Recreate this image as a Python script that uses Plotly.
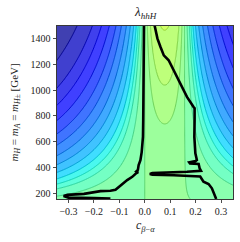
import numpy as np
import plotly.graph_objects as go

# ---- axis ranges ----
C_RANGE = [-0.345, 0.347]
M_RANGE = [156, 1498]

# ---- model parameters for the lambda_hhH field ----
TWO_K = 9.41      # -2 cot(2 beta)
A_EFF = 7400.0    # effective light-mass term [GeV^2]

# contour levels of the field
LEVELS = [-4.5e6, -3.05e6, -2.3e6, -1.72e6, -1.28e6, -0.96e6, -0.70e6,
          -0.51e6, -0.37e6, -0.27e6, -0.20e6, -0.145e6, -0.075e6,
          0.0, 0.064e6, 0.127e6, 0.253e6]
# jet-colormap position of each filled band (len(LEVELS)+1)
BAND_POS = [0.02, 0.055, 0.089, 0.124, 0.158, 0.193, 0.228, 0.262, 0.297, 0.331,
            0.366, 0.40, 0.435, 0.47, 0.50, 0.53, 0.555, 0.585]

# black boundary lines
LEFT_C = [-0.003, -0.003, -0.005, -0.006, -0.007, -0.012, -0.017, -0.024, -0.027,
          -0.033, -0.026, -0.036, -0.049, -0.069, -0.095, -0.115, -0.135, -0.174,
          -0.239, -0.304, -0.319, -0.30, -0.2, -0.135]
LEFT_M = [1500, 1232, 1000, 767, 638, 520, 457, 419, 382,
          370, 364, 352, 328, 303, 264, 228, 220, 217,
          196, 188, 180, 167, 164, 160]
RIGHT_C = [0.039, 0.05, 0.062, 0.075, 0.094, 0.114, 0.14, 0.166, 0.192, 0.196,
           0.196, 0.195, 0.199, 0.205, 0.20, 0.175, 0.178, 0.212, 0.216, 0.221,
           0.166, 0.088, 0.03, 0.02, 0.03, 0.114, 0.218, 0.231, 0.251, 0.264,
           0.271, 0.277, 0.281]
RIGHT_M = [1500, 1400, 1335, 1270, 1232, 1155, 1051, 948, 870, 860,
           767, 638, 510, 458, 450, 440, 432, 427, 393, 375,
           367, 360, 357, 350, 344, 340, 330, 290, 272, 239,
           200, 170, 156]

X_TICKS = [-0.3, -0.2, -0.1, 0.0, 0.1, 0.2, 0.3]
X_TICKTEXT = ["\u22120.3", "\u22120.2", "\u22120.1", "0.0", "0.1", "0.2", "0.3"]
Y_TICKS = [200, 400, 600, 800, 1000, 1200, 1400]

TITLE = "<i>λ</i><sub><i>hhH</i></sub>"
X_TITLE = "<i>c</i><sub><i>β</i>−<i>α</i></sub>"
Y_TITLE = ("<i>m</i><sub><i>H</i></sub> = <i>m</i><sub><i>A</i></sub> = "
           "<i>m</i><sub><i>H</i>±</sub> [GeV]")


def jet(p):
    rx = [0, 0.35, 0.66, 0.89, 1]; ry = [0, 0, 1, 1, 0.5]
    gx = [0, 0.125, 0.375, 0.64, 0.91, 1]; gy = [0, 0, 1, 1, 0, 0]
    bx = [0, 0.11, 0.34, 0.65, 1]; by = [0.5, 1, 1, 0, 0]
    return (np.interp(p, rx, ry), np.interp(p, gx, gy), np.interp(p, bx, by))


def hexc(rgb):
    return "#%02x%02x%02x" % tuple(int(round(255 * max(0, min(1, v)))) for v in rgb)


# grid
cc = np.linspace(-0.3497, 0.3503, 201)
mm = np.linspace(150, 1500, 181)
C, M = np.meshgrid(cc, mm)
S = np.sqrt(1 - C ** 2)
R = 2 * C ** 2 - 1 + TWO_K * C * S
F = C * (M ** 2 - 2 * (M ** 2 - A_EFF) * R)

n = len(LEVELS)
T = np.interp(F, LEVELS, np.arange(n, dtype=float))
lo = F < LEVELS[0]
T[lo] = (F[lo] - LEVELS[0]) / (LEVELS[1] - LEVELS[0])
hi = F > LEVELS[-1]
T[hi] = n - 1 + (F[hi] - LEVELS[-1]) / (LEVELS[-1] - LEVELS[-2])

# fill colorscale (stepwise)
fill_cs = []
for j in range(n + 1):
    r, g, b = jet(BAND_POS[j])
    col = hexc((0.75 * r + 0.25, 0.75 * g + 0.25, 0.75 * b + 0.25))
    a = max(0.0, (j - 0.5) / n)
    bnd = min(1.0, (j + 0.5) / n)
    fill_cs.append([a, col]); fill_cs.append([bnd, col])

line_cs = []
for k in range(n):
    p = 0.5 * (BAND_POS[k] + BAND_POS[k + 1])
    r, g, b = jet(p)
    col = hexc((0.82 * r, 0.82 * g, 0.82 * b))
    a = max(0.0, (k - 0.5) / (n - 1))
    bnd = min(1.0, (k + 0.5) / (n - 1))
    line_cs.append([a, col]); line_cs.append([bnd, col])

fig = go.Figure()
fig.add_trace(go.Contour(
    x=cc, y=mm, z=T, colorscale=fill_cs, showscale=False,
    autocontour=False,
    contours=dict(start=0, end=n - 1, size=1, coloring="fill", showlines=False),
    line=dict(width=0), hoverinfo="skip"))
fig.add_trace(go.Contour(
    x=cc, y=mm, z=T, colorscale=line_cs, showscale=False,
    autocontour=False,
    contours=dict(start=0, end=n - 1, size=1, coloring="lines"),
    line=dict(width=1.0), hoverinfo="skip"))
fig.add_trace(go.Scatter(x=LEFT_C, y=LEFT_M, mode="lines",
                         line=dict(color="black", width=2.6), hoverinfo="skip"))
fig.add_trace(go.Scatter(x=RIGHT_C, y=RIGHT_M, mode="lines",
                         line=dict(color="black", width=2.6), hoverinfo="skip"))

FONT = "Liberation Serif"
L, R_, T_, B = 57, 7, 26, 43
fig.update_layout(
    width=240, height=242,
    margin=dict(l=L, r=R_, t=T_, b=B, autoexpand=False),
    paper_bgcolor="white", plot_bgcolor="white",
    showlegend=False,
    font=dict(family=FONT, size=10, color="#222"),
    annotations=[
        dict(text=TITLE, xref="paper", yref="paper", x=0.5, y=1.0, yshift=14,
             xanchor="center", yanchor="middle", showarrow=False,
             font=dict(family=FONT, size=13, color="#222")),
        dict(text=X_TITLE, xref="paper", yref="paper", x=0.5, y=0, yshift=-27,
             xanchor="center", yanchor="middle", showarrow=False,
             font=dict(family=FONT, size=12, color="#222")),
        dict(text=Y_TITLE, xref="paper", yref="paper", x=0, xshift=-43, y=0.5,
             xanchor="center", yanchor="middle", textangle=-90, showarrow=False,
             font=dict(family=FONT, size=11, color="#222")),
    ],
)
fig.update_xaxes(range=C_RANGE, tickvals=X_TICKS, ticktext=X_TICKTEXT,
                 ticks="outside", ticklen=3.5, tickwidth=0.8, tickcolor="#222",
                 showline=True, linecolor="#222", linewidth=0.9, mirror=True,
                 showgrid=False, zeroline=False, automargin=False,
                 tickfont=dict(family=FONT, size=10, color="#222"))
fig.update_yaxes(range=M_RANGE, tickvals=Y_TICKS,
                 ticks="outside", ticklen=3.5, tickwidth=0.8, tickcolor="#222",
                 showline=True, linecolor="#222", linewidth=0.9, mirror=True,
                 showgrid=False, zeroline=False, automargin=False,
                 tickfont=dict(family=FONT, size=10, color="#222"))

# remove the default page margin so the figure sits at the window's corner
fig.write_html("out.html",
               config={"displayModeBar": False, "staticPlot": True},
               post_script="document.body.style.margin='0';"
                           "document.body.style.overflow='hidden';")
